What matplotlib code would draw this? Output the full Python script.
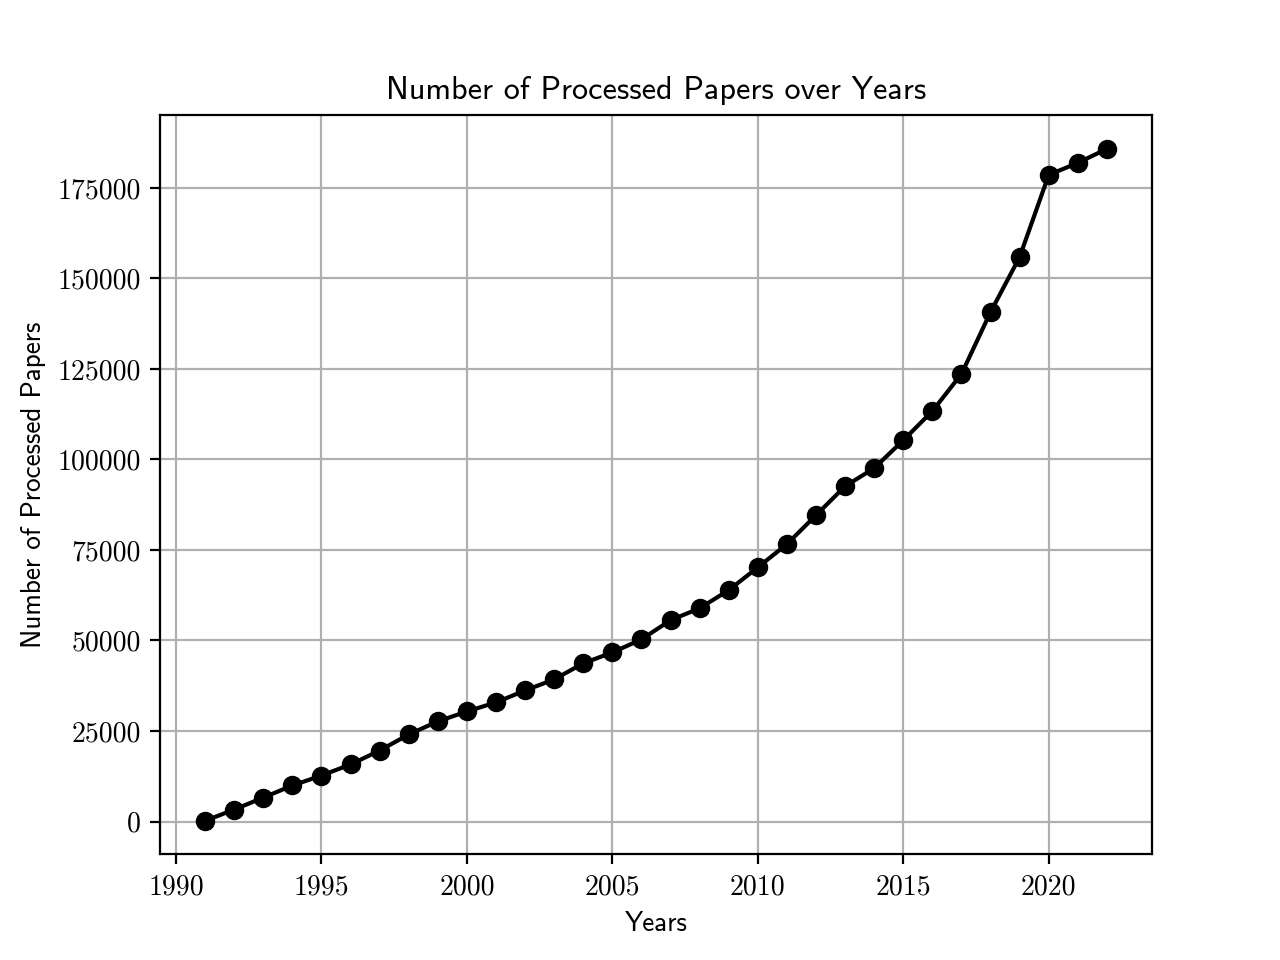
import numpy as np
import matplotlib
matplotlib.use('Agg')
from matplotlib import pyplot as plt

# Years on record
years = np.arange(1991, 2023)

# Number of processed papers per year
papers = [200, 3300, 6600, 9950, 12700, 15760, 19600, 24050, 27650, 30400,
          32900, 36200, 39250, 43700, 46700, 50300, 55600, 58900, 63900, 70200,
          76600, 84600, 92600, 97600, 105300, 113350, 123600, 140700, 155900,
          178600, 181900, 185800]

fig = plt.figure(figsize=(6.4, 4.8), dpi=200)
ax = fig.add_subplot(1, 1, 1)
ax.plot(years, papers, c='black', marker='o')
ax.grid(True)
ax.set_title('Number of Processed Papers over Years', fontfamily='cmss10', fontsize=11.6)
ax.set_xlabel('Years', fontfamily='cmss10', fontsize=9.8)
ax.set_ylabel('Number of Processed Papers', fontfamily='cmss10', fontsize=9.8)
for lab in ax.get_xticklabels() + ax.get_yticklabels():
    lab.set_fontfamily('cmr10')
plt.savefig('out.png')
